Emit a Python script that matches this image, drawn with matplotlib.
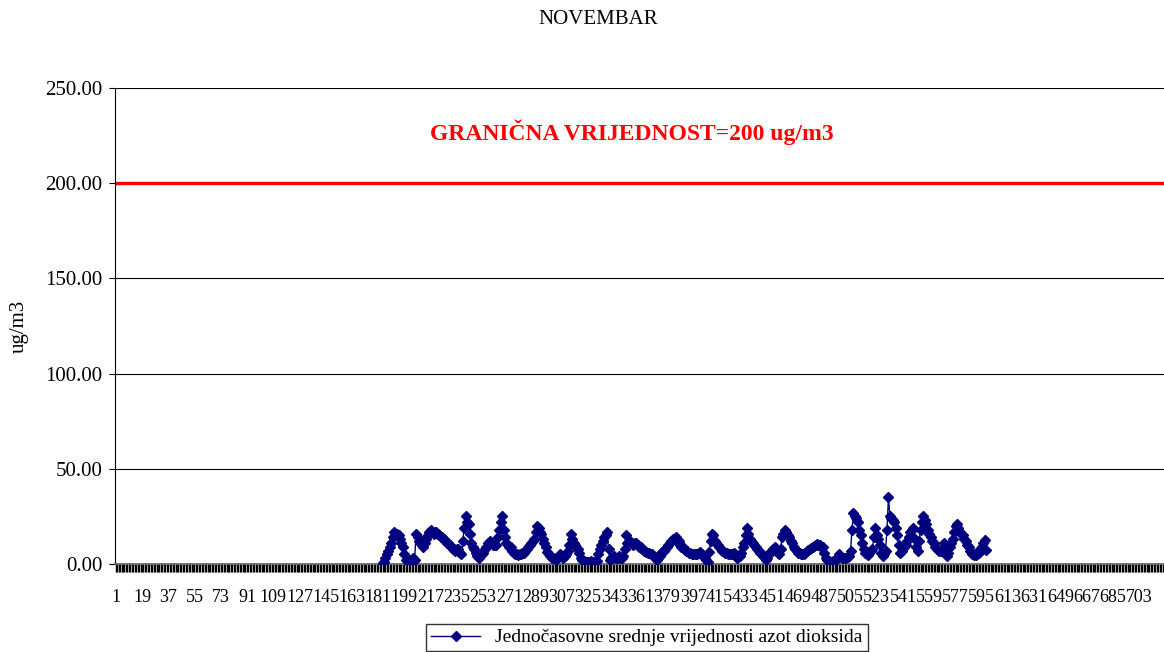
import numpy as np
import matplotlib.pyplot as plt

plt.rcParams['font.family'] = ['Liberation Serif', 'DejaVu Serif']

# Hourly NO2 means (ug/m3), hours of November; measured from hour 184
n_hours = 720
start_hour = 184
no2_values = [
    0.5, 1, 3, 5, 7, 9, 11, 14, 17, 16,          # 184
    16, 15, 13, 11, 9, 5, 2, 2, 1.5, 2,          # 194
    2, 3, 2, 16, 14, 12, 11, 10, 9, 11,          # 204
    13, 15, 17, 18, 17, 16, 17, 17, 16, 15,      # 214
    14, 14, 13, 12, 11, 11, 10, 9, 8, 8,         # 224
    7, 8, 8, 6, 5, 12, 19, 25, 22, 21,           # 234
    16, 11, 9, 8, 6, 4, 3, 4, 5, 6,              # 244
    8, 9, 11, 11, 12, 11, 10, 10, 10, 14,        # 254
    18, 22, 25, 18, 14, 11, 10, 9, 9, 7,         # 264
    6, 5, 5, 4.5, 5, 5, 6, 6, 7, 8,              # 274
    9, 10, 11, 12, 13, 17, 20, 19, 17, 16,       # 284
    13, 11, 9, 6.5, 5, 4, 3, 3, 2.5, 2,          # 294
    3, 4, 5.5, 4, 3, 4, 5, 7, 10, 16,            # 304
    13, 11, 10, 9, 8, 6, 3, 2, 1.5, 1,           # 314
    1, 1, 1, 1.5, 1, 1, 1, 1.5, 5, 8,            # 324
    10, 12, 14, 15, 17, 8, 2, 3, 3, 4,           # 334
    3, 3, 4, 3, 3, 4, 8, 15, 11, 12,             # 344
    12, 11, 10, 11, 11, 10, 9, 9, 8, 7,          # 354
    7, 6.5, 6, 6, 5, 5, 4, 3, 2, 3,              # 364
    4, 6, 6.5, 7, 8, 9, 10, 11, 12, 13,          # 374
    13, 14, 13, 12, 10, 9, 9, 8, 7, 7,           # 384
    6, 6, 5.5, 5, 5, 5, 5, 6, 6.5, 5,            # 394
    4, 3, 2, 1, 6.5, 12, 16, 15, 12, 11,         # 404
    10, 9, 8, 7, 6.5, 6, 6, 5, 5, 5,             # 414
    5.5, 6, 5, 3, 3.5, 4, 6, 9, 11, 15,          # 424
    19, 16, 13, 12, 11, 10, 9, 8, 7, 6,          # 434
    5, 4, 3, 2, 3, 5, 6.5, 7, 8, 9,              # 444
    7, 6, 5, 8, 14, 16, 18, 17, 15, 14,          # 454
    12, 11, 9, 8, 7, 6, 6, 5.5, 5, 5.5,          # 464
    6, 7, 7.5, 8, 8.5, 9, 9.5, 10, 10.5, 10,     # 474
    10, 9, 9, 6, 3, 2, 1.5, 1, 1, 1.5,           # 484
    2, 2, 3, 5, 4, 3, 3, 3, 3, 3.5,              # 494
    4, 7, 18, 27, 25, 24, 22, 18, 15, 11,        # 504
    8, 6, 5, 4.5, 6, 7, 8, 14, 19, 15,           # 514
    13, 10, 6, 4, 5, 7, 18, 35, 25, 24,          # 524
    23, 22, 19, 15, 10, 6, 7, 8.5, 9, 10,        # 534
    12, 14, 17, 18, 19, 13, 9, 7, 12, 18,        # 544
    22, 25, 23, 21, 18, 16, 14, 12, 11, 9,       # 554
    8, 7.5, 7, 7, 8, 11, 7, 4, 6, 9,             # 564
    11, 13, 17, 20, 21, 19, 17, 16, 15, 13,      # 574
    12, 10, 9, 7, 5.5, 5, 4.5, 4.5, 5, 6,        # 584
    8, 9, 11, 12.5, 7.5,                         # 594
]
limit_value = 200
limit_label = 'GRANIČNA VRIJEDNOST=200 ug/m3'
series_label = 'Jednočasovne srednje vrijednosti azot dioksida'
label_step = 18

hours = np.arange(1, n_hours + 1)
series = np.full(n_hours, np.nan)
series[start_hour - 1:start_hour - 1 + len(no2_values)] = no2_values

fig = plt.figure(figsize=(11.64, 6.52), dpi=100)
ax = fig.add_axes([115 / 1164, 88 / 652, 1049 / 1164, 476 / 652])

for y in [50, 100, 150, 250]:
    ax.axhline(y, color='black', linewidth=0.8, zorder=1)
ax.axhline(limit_value, color='#ff0000', linewidth=2.4, zorder=2)

ax.plot(hours, series, color='#000080', linewidth=1, marker='D',
        markersize=5, label=series_label, zorder=3)

ax.text(355, 226.5, limit_label, color='#ff0000', fontsize=17,
        fontweight='bold', ha='center', va='center')

# the plot area runs a little past the right edge of the picture
ax.set_xlim(0.5, 714.7)
ax.set_ylim(0, 250)
ax.set_yticks([0, 50, 100, 150, 200, 250])
ax.set_yticklabels(['%.2f' % v for v in [0, 50, 100, 150, 200, 250]], fontsize=15)
ax.set_xticks(hours)
ax.set_xticklabels([str(h) if (h - 1) % label_step == 0 else '' for h in hours],
                   fontsize=13)
ax.tick_params(axis='x', length=6, width=1.0, color='black', pad=12)
ax.tick_params(axis='y', length=4, width=0.8, color='black', pad=5)

for side in ['top', 'right']:
    ax.spines[side].set_visible(False)
ax.spines['left'].set_linewidth(0.8)
ax.spines['bottom'].set_linewidth(1.2)
ax.spines['bottom'].set_color('#606060')

ax.set_ylabel('ug/m3', fontsize=15, labelpad=12)
fig.text(598 / 1164, 1 - 20 / 652, 'NOVEMBAR', fontsize=15, ha='center', va='center')

fig.legend(loc='upper center', bbox_to_anchor=(647 / 1164, 1 - 624 / 652),
           frameon=True, fancybox=False, edgecolor='black', fontsize=14,
           borderpad=0.25, borderaxespad=0, handlelength=2.5)

fig.savefig('out.png', dpi=100)
